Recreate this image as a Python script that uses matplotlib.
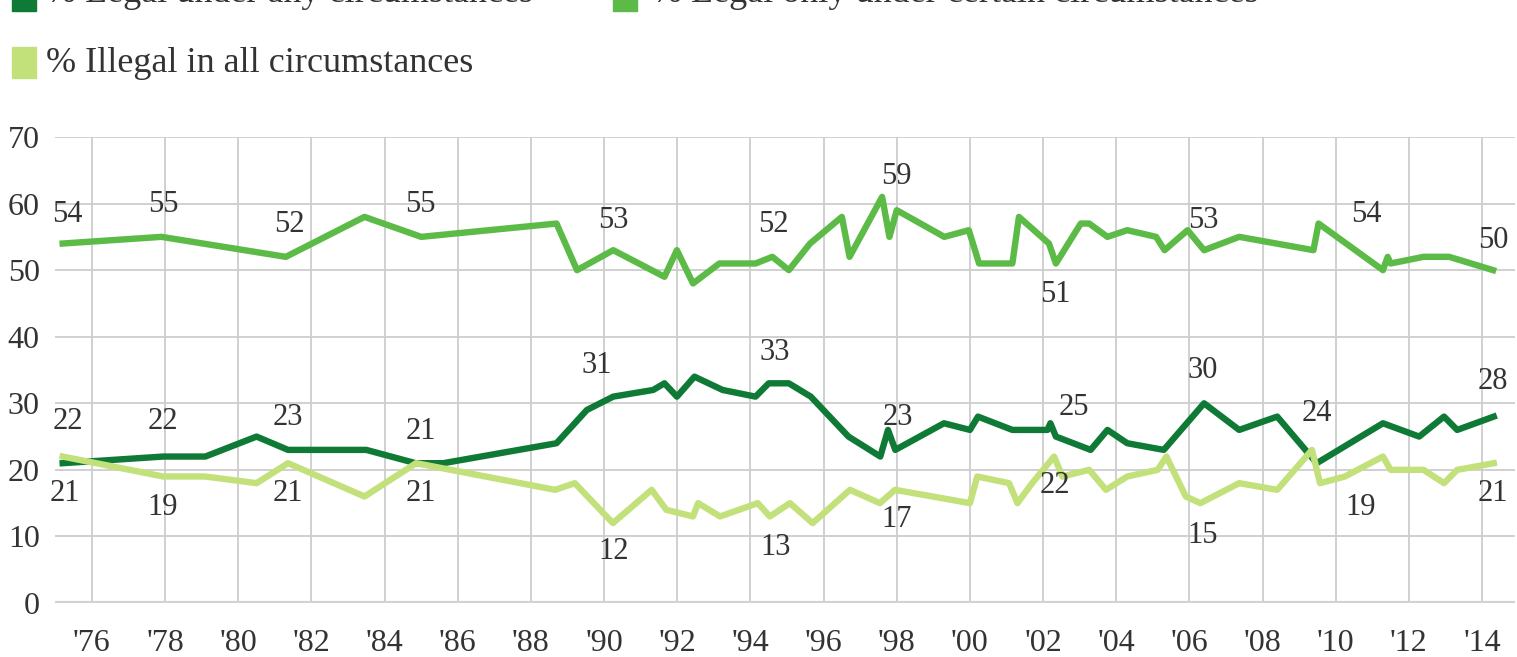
import matplotlib
matplotlib.use("Agg")
import matplotlib.pyplot as plt
from matplotlib.patches import Rectangle

# ---------------- data ----------------
any_years = [1975.2, 1977.95, 1979.1, 1980.5, 1981.36, 1983.5, 1984.85, 1985.6, 1988.7,
             1989.53, 1990.25, 1991.34, 1991.65, 1991.99, 1992.47, 1993.24, 1994.14,
             1994.5, 1995.05, 1995.65, 1996.68, 1997.55, 1997.76, 1997.96, 1999.29,
             2000.0, 2000.22, 2001.16, 2002.12, 2002.2, 2002.35, 2003.3, 2003.76,
             2004.3, 2005.3, 2006.4, 2007.36, 2008.4, 2009.48, 2011.29, 2012.28,
             2012.96, 2013.32, 2014.32]
any_vals = [21, 22, 22, 25, 23, 23, 21, 21, 24,
            29, 31, 32, 33, 31, 34, 32, 31,
            33, 33, 31, 25, 22, 26, 23, 27,
            26, 28, 26, 26, 27, 25, 23, 26,
            24, 23, 30, 26, 28, 21, 27, 25,
            28, 26, 28]

certain_years = [1975.2, 1977.9, 1981.3, 1983.45, 1985.0, 1988.7, 1989.26, 1990.25,
                 1991.65, 1991.99, 1992.43, 1993.15, 1994.14, 1994.6, 1995.05, 1995.63,
                 1996.5, 1996.71, 1997.6, 1997.8, 1998.0, 1999.3, 1999.97, 2000.25,
                 2001.16, 2001.34, 2002.16, 2002.35, 2003.03, 2003.26, 2003.76, 2004.3,
                 2005.09, 2005.32, 2005.95, 2006.4, 2007.36, 2009.39, 2009.53, 2011.29,
                 2011.42, 2011.5, 2012.4, 2013.1, 2014.3]
certain_vals = [54, 55, 52, 58, 55, 57, 50, 53,
                49, 53, 48, 51, 51, 52, 50, 54,
                58, 52, 61, 55, 59, 55, 56, 51,
                51, 58, 54, 51, 57, 57, 55, 56,
                55, 53, 56, 53, 55, 53, 57, 50,
                52, 51, 52, 52, 50]

illegal_years = [1975.2, 1977.95, 1979.1, 1980.5, 1981.36, 1983.45, 1984.86, 1988.66,
                 1989.2, 1990.24, 1991.3, 1991.7, 1992.43, 1992.57, 1993.17, 1994.2,
                 1994.53, 1995.08, 1995.7, 1996.72, 1997.54, 1997.95, 2000.0, 2000.2,
                 2001.07, 2001.3, 2001.7, 2002.3, 2002.53, 2003.26, 2003.72, 2004.3,
                 2005.13, 2005.37, 2005.9, 2006.3, 2007.36, 2008.4, 2009.35, 2009.57,
                 2010.25, 2011.29, 2011.5, 2012.4, 2012.96, 2013.32, 2014.32]
illegal_vals = [22, 19, 19, 18, 21, 16, 21, 17,
                18, 12, 17, 14, 13, 15, 13, 15,
                13, 15, 12, 17, 15, 17, 15, 19,
                18, 15, 18, 22, 19, 20, 17, 19,
                20, 22, 16, 15, 18, 17, 23, 18,
                19, 22, 20, 20, 18, 20, 21]

series_names = ["% Legal under any circumstances",
                "% Legal only under certain circumstances",
                "% Illegal in all circumstances"]

# value labels: text, and where the text sits (year, chart value)
label_texts = ["54", "55", "52", "55", "53", "52", "59", "51", "53", "54", "50",
               "22", "22", "23", "21", "31", "33", "23", "25", "30", "24", "28",
               "21", "19", "21", "21", "12", "13", "17", "22", "15", "19", "21"]
label_years = [1975.34, 1977.94, 1981.39, 1984.99, 1990.24, 1994.64, 1998.0, 2002.33, 2006.37, 2010.83, 2014.3,
               1975.34, 1977.94, 1981.36, 1984.99, 1989.8, 1994.67, 1998.03, 2002.85, 2006.37, 2009.49, 2014.3,
               1975.26, 1977.94, 1981.36, 1984.99, 1990.27, 1994.7, 1998.0, 2002.33, 2006.37, 2010.69, 2014.3]
label_heights = [58.3, 59.8, 56.8, 59.8, 57.5, 56.8, 64.0, 46.3, 57.5, 58.3, 54.5,
                 27.2, 27.2, 27.8, 25.7, 35.75, 37.7, 27.8, 29.4, 35.0, 28.5, 33.2,
                 16.5, 14.4, 16.5, 16.5, 7.7, 8.4, 12.5, 17.7, 10.2, 14.4, 16.5]

x_ticks = list(range(1976, 2015, 2))
x_tick_labels = ["'" + str(y)[2:] for y in x_ticks]
y_ticks = list(range(0, 71, 10))

# ---------------- style ----------------
C_ANY = "#0f7a36"
C_CERTAIN = "#5cba47"
C_ILLEGAL = "#c3e17b"
TXT = "#333333"
GRID = "#cdcdcd"
FONT = ["Liberation Serif", "DejaVu Serif"]
plt.rcParams["font.family"] = FONT

W, H = 1517, 657
fig = plt.figure(figsize=(W / 100, H / 100), dpi=100)
ax = fig.add_axes([55 / W, 1 - 603 / H, (1515 - 55) / W, (603 - 137) / H])

ax.set_xlim(1974.99, 2014.9)
ax.set_ylim(0, 70)
ax.set_xticks(x_ticks)
ax.set_xticklabels(x_tick_labels)
ax.set_yticks(y_ticks)
for s in ax.spines.values():
    s.set_visible(False)
ax.grid(True, color=GRID, lw=1.3)
ax.set_axisbelow(True)
ax.axhline(0, color="#d2d2d2", lw=3, zorder=1)
ax.tick_params(axis="both", length=0, labelsize=23, colors=TXT)
ax.tick_params(axis="y", pad=11)
ax.tick_params(axis="x", pad=19)

lw = 4.6
ax.plot(any_years, any_vals, color=C_ANY, lw=lw, solid_joinstyle="round", zorder=3)
ax.plot(certain_years, certain_vals, color=C_CERTAIN, lw=lw, solid_joinstyle="round", zorder=3)
ax.plot(illegal_years, illegal_vals, color=C_ILLEGAL, lw=lw, solid_joinstyle="round", zorder=4)

for t, xx, yy in zip(label_texts, label_years, label_heights):
    ax.text(xx, yy, t, ha="center", va="center", fontsize=22, color=TXT, zorder=5)

# ---------------- legend (manual, top row partly cropped as in the source) ----------------
legend_colors = [C_ANY, C_CERTAIN, C_ILLEGAL]
legend_px = [(12, -20, 46, 2), (613, -20, 652, 2), (12, 47, 46, 72)]
for (sx, sy, tx, ty), col, name in zip(legend_px, legend_colors, series_names):
    fig.patches.append(Rectangle((sx / W, 1 - (sy + 31) / H), 24 / W, 31 / H,
                                 transform=fig.transFigure, color=col, zorder=5))
    fig.text(tx / W, 1 - ty / H, name, ha="left", va="baseline",
             fontsize=26, color=TXT)

fig.savefig("out.png", dpi=100)
